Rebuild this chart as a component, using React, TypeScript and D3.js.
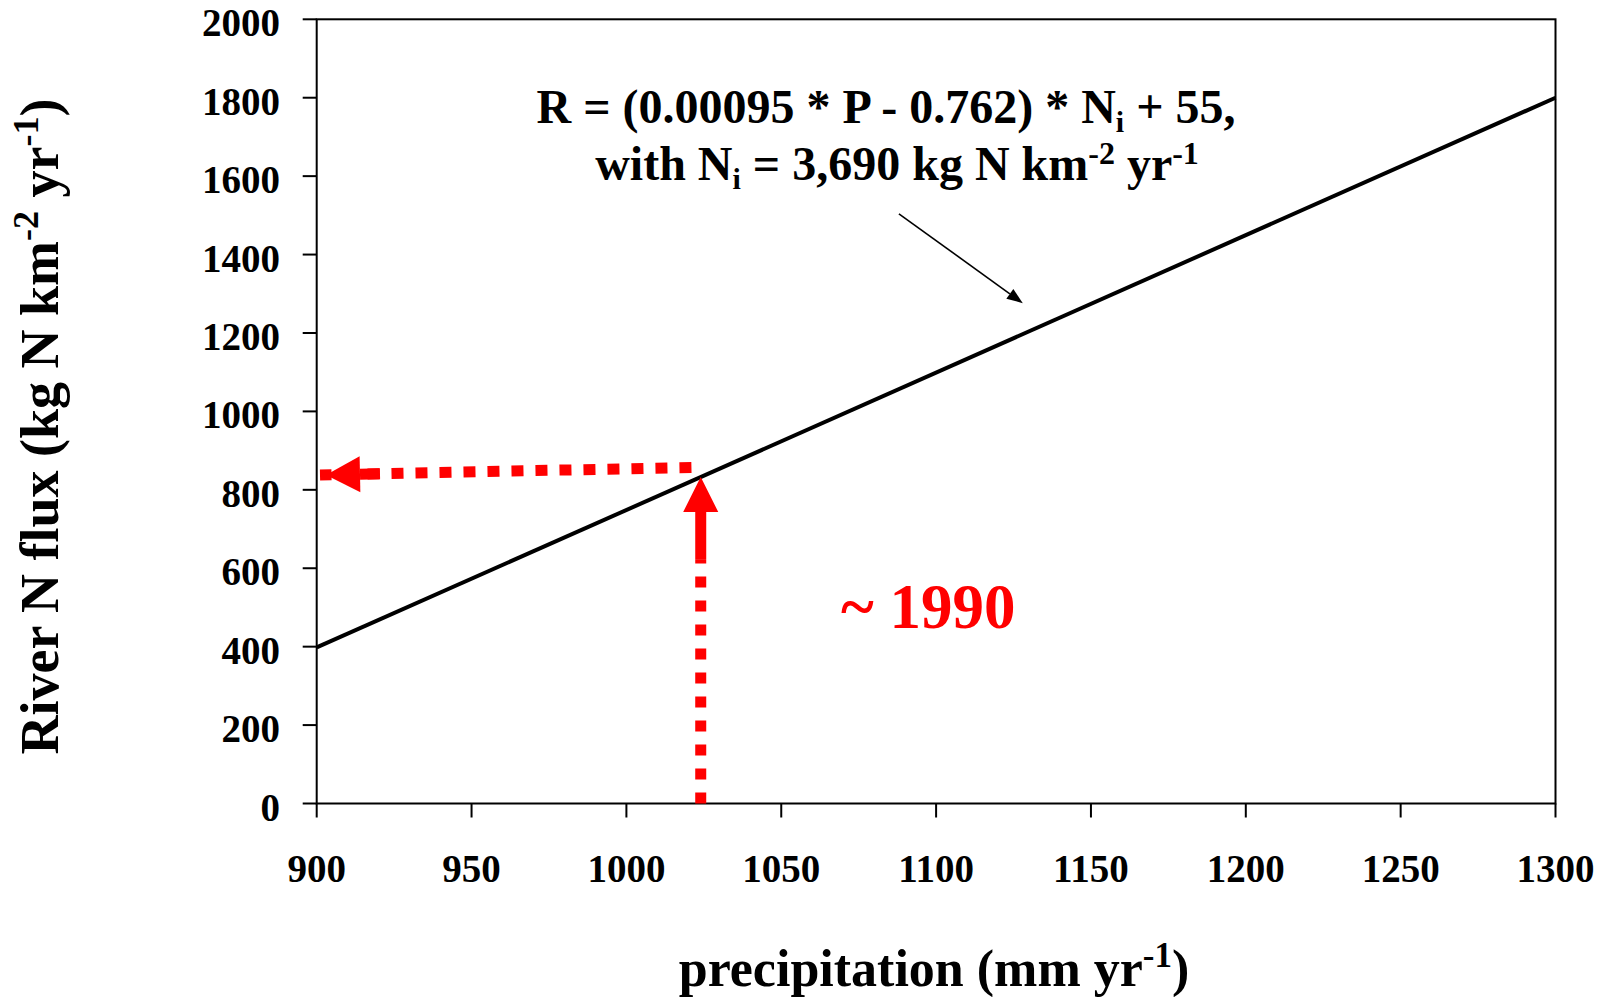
import React from 'react';
import * as d3 from 'd3';

const xTicks = [900, 950, 1000, 1050, 1100, 1150, 1200, 1250, 1300];
const yTicks = [0, 200, 400, 600, 800, 1000, 1200, 1400, 1600, 1800, 2000];
const precipitation = [900, 1300];
const riverFlux = [398, 1800];
// red arrows (tail -> tip), in data units
const upArrowP = [1024, 1024];
const upArrowR = [0, 833];
const leftArrowP = [1021, 903];
const leftArrowR = [857, 838];
// thin black pointer (tail -> tip)
const pointerP = [1088, 1128];
const pointerR = [1504, 1276];

const FONT = '"Liberation Serif", "Times New Roman", serif';

function arrowParts(x0: number, y0: number, x1: number, y1: number, headLen: number, headHalf: number, solidLen: number) {
  const dx = x1 - x0, dy = y1 - y0;
  const len = Math.hypot(dx, dy);
  const ux = dx / len, uy = dy / len;
  const px = -uy, py = ux;
  const bx = x1 - ux * headLen, by = y1 - uy * headLen;
  const sx = bx - ux * solidLen, sy = by - uy * solidLen;
  const head = `M${x1},${y1}L${bx + px * headHalf},${by + py * headHalf}L${bx - px * headHalf},${by - py * headHalf}Z`;
  return { bx, by, sx, sy, head };
}

export default function App() {
  const x = d3.scaleLinear().domain([900, 1300]).range([316.7, 1555.5]);
  const y = d3.scaleLinear().domain([0, 2000]).range([803.5, 19.3]);

  const line = d3.line<number>().x((_, i) => x(precipitation[i])).y((d) => y(d));
  const linePath = line(riverFlux) || '';

  const up = arrowParts(x(upArrowP[0]), y(upArrowR[0]), x(upArrowP[1]), y(upArrowR[1]), 35, 17.5, 48);
  const left = arrowParts(x(leftArrowP[0]), y(leftArrowR[0]), x(leftArrowP[1]), y(leftArrowR[1]), 34, 18, 20);
  const ptr = arrowParts(x(pointerP[0]), y(pointerR[0]), x(pointerP[1]), y(pointerR[1]), 16, 6, 0);

  const red = '#ff0000';

  return (
    <svg width={1612} height={997} style={{ position: 'absolute', left: 0, top: 0, background: '#fff' }} fontFamily={FONT} fontWeight="bold">
      <rect x={0} y={0} width={1612} height={997} fill="#fff" />
      {/* frame */}
      <rect x={x(900)} y={y(2000)} width={x(1300) - x(900)} height={y(0) - y(2000)} fill="none" stroke="#000" strokeWidth={2} />
      {/* y ticks */}
      {yTicks.map((t) => (
        <g key={'y' + t}>
          <line x1={x(900) - 14} x2={x(900)} y1={y(t)} y2={y(t)} stroke="#000" strokeWidth={2} />
          <text x={280} y={y(t) + 17} textAnchor="end" fontSize={39}>{t}</text>
        </g>
      ))}
      {/* x ticks */}
      {xTicks.map((t) => (
        <g key={'x' + t}>
          <line x1={x(t)} x2={x(t)} y1={y(0)} y2={y(0) + 14} stroke="#000" strokeWidth={2} />
          <text x={x(t)} y={881.5} textAnchor="middle" fontSize={39}>{t}</text>
        </g>
      ))}
      {/* data line */}
      <path d={linePath} fill="none" stroke="#000" strokeWidth={4} />

      {/* vertical red arrow */}
      <line x1={x(upArrowP[0])} y1={y(upArrowR[0])} x2={up.sx} y2={up.sy} stroke={red} strokeWidth={11} strokeDasharray="11 13" />
      <line x1={up.sx} y1={up.sy} x2={up.bx} y2={up.by} stroke={red} strokeWidth={11} />
      <path d={up.head} fill={red} />

      {/* horizontal red arrow */}
      <line x1={x(leftArrowP[0])} y1={y(leftArrowR[0])} x2={x(leftArrowP[1]) - 6} y2={y(leftArrowR[1])} stroke={red} strokeWidth={11} strokeDasharray="12 12" />
      <line x1={left.sx} y1={left.sy} x2={left.bx} y2={left.by} stroke={red} strokeWidth={11} />
      <path d={left.head} fill={red} />

      {/* pointer */}
      <line x1={x(pointerP[0])} y1={y(pointerR[0])} x2={ptr.bx} y2={ptr.by} stroke="#000" strokeWidth={1.6} />
      <path d={ptr.head} fill="#000" />

      {/* equation */}
      <text x={886} y={123} textAnchor="middle" fontSize={48}>
        R = (0.00095 * P - 0.762) * N<tspan fontSize={30} dy={9}>i</tspan><tspan dy={-9}> + 55,</tspan>
      </text>
      <text x={897} y={180} textAnchor="middle" fontSize={48}>
        with N<tspan fontSize={30} dy={9}>i</tspan><tspan dy={-9}> = 3,690 kg N km</tspan><tspan fontSize={32} dy={-16}>-2</tspan><tspan dy={16}> yr</tspan><tspan fontSize={32} dy={-16}>-1</tspan>
      </text>

      {/* ~1990 */}
      <text x={841} y={628} fontSize={63} fill={red}>~ 1990</text>

      {/* axis titles */}
      <text x={934} y={985.5} textAnchor="middle" fontSize={52}>
        precipitation (mm yr<tspan fontSize={35} dy={-19}>-1</tspan><tspan dy={19}>)</tspan>
      </text>
      <text transform="translate(58,426.5) rotate(-90)" textAnchor="middle" fontSize={54}>
        River N flux (kg N km<tspan fontSize={36} dy={-20}>-2</tspan><tspan dy={20}> yr</tspan><tspan fontSize={36} dy={-20}>-1</tspan><tspan dy={20}>)</tspan>
      </text>
    </svg>
  );
}
